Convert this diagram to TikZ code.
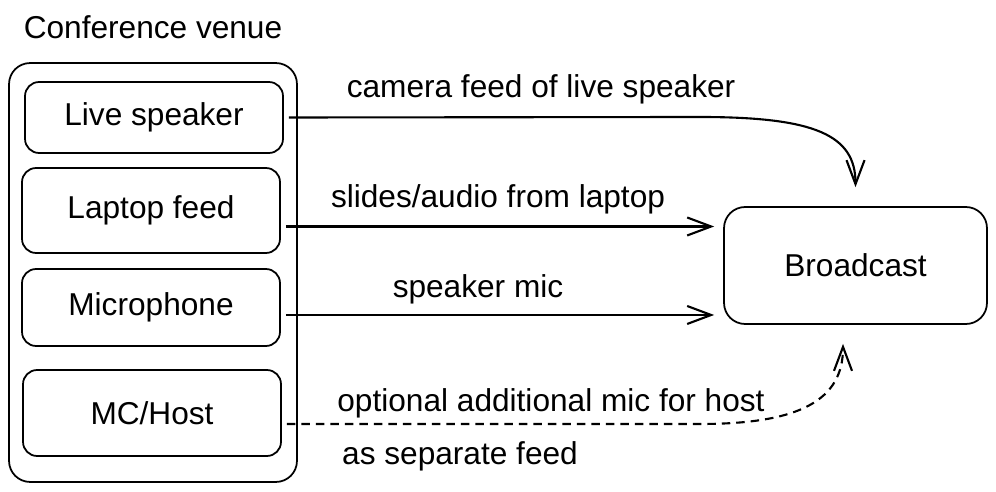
\documentclass[tikz,border=0pt]{standalone}
\usepackage{fontspec}
\setmainfont{Liberation Sans}
\usetikzlibrary{arrows.meta}

\begin{document}
\begin{tikzpicture}[x=0.02cm, y=-0.02cm,
    txt/.style={font=\fontsize{18}{21}\selectfont},
    box/.style={draw, txt, line width=1pt, rounded corners=8pt, minimum width=5.16cm},
    feed/.style={line width=1.2pt, -{Straight Barb[length=0.48cm, width=0.36cm]}},
    optional/.style={feed, dash pattern=on 0.17cm off 0.12cm}]
    \useasboundingbox (0,0) rectangle (996,492);

    % Draw the venue and its sources
    \node[txt] (title) at (153,27) {Conference venue};
    \node[draw, line width=1pt, rounded corners=12pt, minimum width=5.76cm, minimum height=8.38cm] (venue) at (153,272.5) {};
    \node[box, minimum height=1.42cm] (live) at (154,117.5) {Live speaker};
    \node[box, minimum height=1.70cm] (lap) at (151,210.5) {Laptop feed};
    \node[box, minimum height=1.54cm] (mic) at (151,307.5) {Microphone};
    \node[box, minimum height=1.72cm] (host) at (152,413) {MC/Host};

    % Draw the broadcast
    \node[box, minimum width=5.26cm, minimum height=2.34cm, rounded corners=12pt] (bcast) at (855.5,265.5) {Broadcast};

    % Draw the feeds
    \coordinate (liveout) at ([shift={(5,0)}]live.east);
    \coordinate (lapout) at ([shift={(5,16)}]lap.east);
    \coordinate (micout) at ([shift={(5,7.5)}]mic.east);
    \coordinate (hostout) at ([shift={(5,11)}]host.east);
    \draw[feed] (liveout) -- (700,117) .. controls (815,117) and (855.5,135) .. ([shift={(0,-19)}]bcast.north);
    \draw[feed, shorten >=0.18cm] (lapout) -- (lapout -| bcast.west);
    \draw[feed, shorten >=0.18cm] (micout) -- (micout -| bcast.west);
    \draw[optional] (hostout) -- (700,424) .. controls (800,424) and (843,400) .. ([shift={(-12.5,19)}]bcast.south);

    % Label feeds
    \node[txt] (camlabel) at (541,89) {camera feed of live speaker};
    \node[txt] (slidelabel) at (498,199) {slides/audio from laptop};
    \node[txt] (miclabel) at (478,289) {speaker mic};
    \node[txt] (optlabel) at (551,403) {optional additional mic for host};
    \node[txt] (seplabel) at (460,456) {as separate feed};
\end{tikzpicture}
\end{document}
